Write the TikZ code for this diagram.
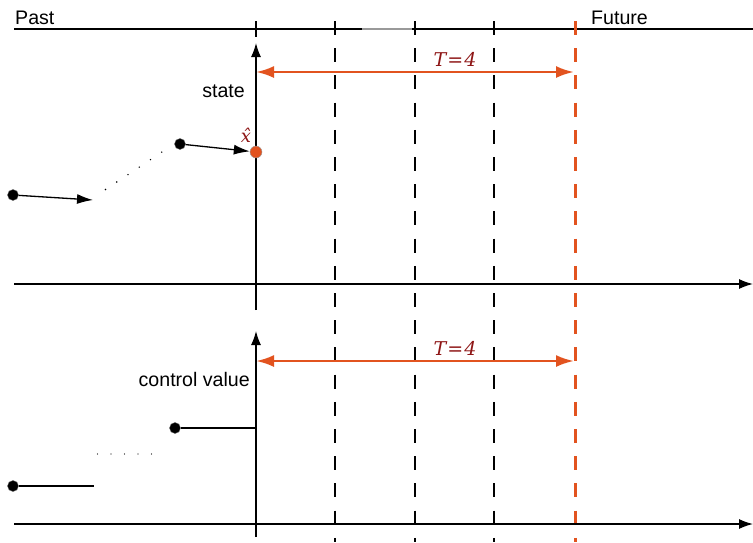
\documentclass[tikz,border=0pt]{standalone}
\usepackage{fontspec}
\setmainfont{Liberation Sans}
\newfontfamily\serifit{DejaVu Serif}
\usetikzlibrary{arrows.meta}
\definecolor{orng}{HTML}{E2531F}
\definecolor{dred}{HTML}{8E1616}
\begin{document}
\begin{tikzpicture}[x=1pt,y=-1pt,
  lbl/.style={font=\fontsize{19.6}{23}\selectfont, inner sep=0pt},
  mlbl/.style={text=dred, font=\serifit\fontsize{19}{22}\selectfont, inner sep=0pt},
  axisline/.style={line width=1.3pt, -{Latex[length=14pt,width=10pt]}},
  plainline/.style={line width=1.3pt},
  guide/.style={line width=1.2pt, dash pattern=on 14pt off 13.2pt},
  oguide/.style={orng, line width=3pt, dash pattern=on 14pt off 13.2pt},
  spanarrow/.style={orng, line width=2.6pt, {Latex[length=18pt,width=12pt]}-{Latex[length=18pt,width=12pt]}},
  dotpt/.style={circle, fill=black, draw=black!60, line width=0.4pt, inner sep=0pt, minimum size=11pt},
  odot/.style={circle, fill=orng, draw=black!40, line width=0.4pt, inner sep=0pt, minimum size=12pt},
  traj/.style={line width=1.3pt, -{Latex[length=16pt,width=10pt]}},
  dots/.style={line width=1.6pt, line cap=round, dash pattern=on 0pt off 13.5pt},
]
\useasboundingbox (0,0) rectangle (753,542);

% top time line
\coordinate (tl0) at (14,29);
\coordinate (tl1) at (753,29);
\draw[plainline] (tl0) -- (tl1);
\coordinate (tg0) at (362,29);
\coordinate (tg1) at (412,29);
\draw[black!40, line width=1.6pt] (tg0) -- (tg1);
\node[lbl, anchor=base west] (past) at (15,24) {Past};
\node[lbl, anchor=base west] (future) at (591,24) {Future};

% tick at current time
\coordinate (tk0) at (256,21);
\coordinate (tk1) at (256,37);
\draw[plainline] (tk0) -- (tk1);

% dashed guides
\foreach \xx/\nm in {335/a,415/b,494/c}{
  \coordinate (g\nm0) at (\xx,21);
  \coordinate (g\nm1) at (\xx,542);
  \draw[guide] (g\nm0) -- (g\nm1);
}
\coordinate (go0) at (575,21);
\coordinate (go1) at (575,542);
\draw[oguide] (go0) -- (go1);

% upper axes
\coordinate (ya0) at (256,310);
\coordinate (ya1) at (256,43);
\draw[axisline] (ya0) -- (ya1);
\coordinate (xa0) at (14,284);
\coordinate (xa1) at (753,284);
\draw[axisline] (xa0) -- (xa1);

% lower axes
\coordinate (yb0) at (256,537);
\coordinate (yb1) at (256,331);
\draw[axisline] (yb0) -- (yb1);
\coordinate (xb0) at (14,524);
\coordinate (xb1) at (753,524);
\draw[axisline] (xb0) -- (xb1);

% horizon arrows
\coordinate (h0) at (256,72);
\coordinate (h1) at (574,72);
\draw[spanarrow] (h0) -- (h1);
\node[mlbl, anchor=base] (T1) at (455,66) {\itshape T\kern1pt=\kern1pt4};
\coordinate (k0) at (256,361);
\coordinate (k1) at (574,361);
\draw[spanarrow] (k0) -- (k1);
\node[mlbl, anchor=base] (T2) at (455,355) {\itshape T\kern1pt=\kern1pt4};

% labels
\node[lbl, anchor=base east] (state) at (245,97) {state};
\node[lbl, anchor=base east] (ctrl) at (250,386) {control value};

% state trajectory
\node[dotpt] (s0) at (13,195) {};
\coordinate (s0e) at (93,200);
\draw[traj] (s0) -- (s0e);
\coordinate (d0) at (105.5,189.5);
\coordinate (d1) at (162,152);
\draw[dots] (d0) -- (d1);
\node[dotpt] (s1) at (180,144) {};
\node[odot] (xh) at (256,152) {};
\draw[traj] (s1) -- (xh);
\node[mlbl, anchor=base, font=\serifit\fontsize{18}{22}\selectfont] (xhl) at (246,142) {\itshape \^{x}};

% control trajectory
\node[dotpt] (c0) at (13,486) {};
\coordinate (c0e) at (94,486);
\draw[plainline] (c0) -- (c0e);
\coordinate (e0) at (97.5,454);
\coordinate (e1) at (152,454);
\draw[dots, line width=1.4pt] (e0) -- (e1);
\node[dotpt] (c1) at (175,428) {};
\coordinate (c1e) at (256,428);
\draw[plainline] (c1) -- (c1e);
\end{tikzpicture}
\end{document}
